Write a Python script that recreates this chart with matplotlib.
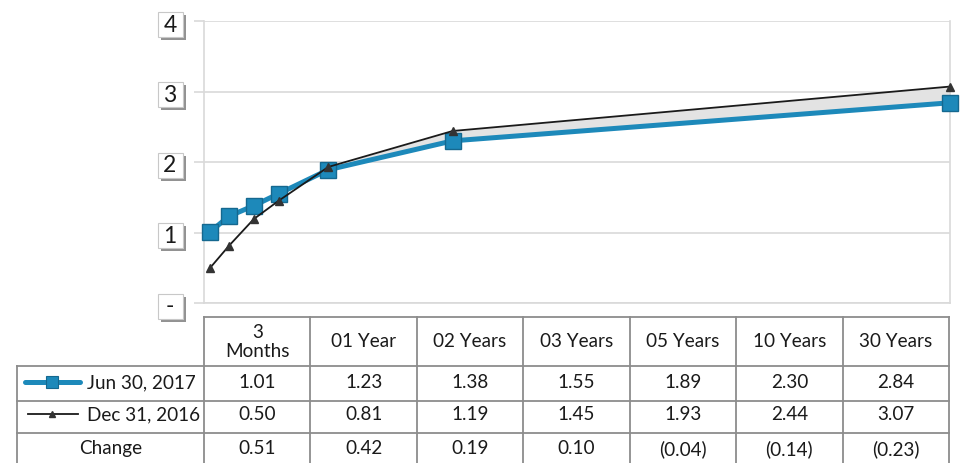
import matplotlib
matplotlib.use("Agg")
import matplotlib.pyplot as plt
import matplotlib.patheffects as pe
from matplotlib import transforms
from matplotlib.lines import Line2D
from matplotlib.patches import Rectangle
import numpy as np

# Yield curve points, maturity in years
maturities = [0.25, 1, 2, 3, 5, 10, 30]
tenor_labels = ["3\nMonths", "01 Year", "02 Years", "03 Years", "05 Years", "10 Years", "30 Years"]
jun_2017 = [1.01, 1.23, 1.38, 1.55, 1.89, 2.30, 2.84]
dec_2016 = [0.50, 0.81, 1.19, 1.45, 1.93, 2.44, 3.07]
series_names = ["Jun 30, 2017", "Dec 31, 2016"]
change_label = "Change"
y_ticks = [0, 1, 2, 3, 4]
y_tick_labels = ["-", "1", "2", "3", "4"]

BLUE = "#1d89ba"
BLUE_EDGE = "#15688f"
GRID = "#d9d9d9"
RULE = "#8c8c8c"
TEXT = "#1a1a1a"

W, H = 966, 464
plt.rcParams["font.family"] = ["Lato", "DejaVu Sans"]

fig = plt.figure(figsize=(W / 100, H / 100), dpi=100)


def fx(px):
    return px / W


def fy(py):
    return 1 - py / H


# --- chart area ---
ax_left, ax_right, ax_top, ax_bottom = 204, 950, 22, 304
ax = fig.add_axes([fx(ax_left), fy(ax_bottom), (ax_right - ax_left) / W, (ax_bottom - ax_top) / H])
ax.set_xlim(0, 30)
ax.set_ylim(0, 4)
ax.set_xticks([])
ax.set_yticks(y_ticks)
ax.set_yticklabels([])
ax.yaxis.grid(True, color=GRID, lw=1.2)
ax.set_axisbelow(True)
ax.tick_params(axis="y", length=7, width=1.2, color=GRID)
ax.spines["top"].set_visible(False)
for side in ("left", "right", "bottom"):
    ax.spines[side].set_color(GRID)
    ax.spines[side].set_linewidth(1.2)

x = np.array(maturities)
jun = np.array(jun_2017)
dec = np.array(dec_2016)
ax.fill_between(x, jun, dec, where=dec >= jun, interpolate=True,
                color="#e3e3e3", lw=0, zorder=1)
ax.plot(x, jun, color=BLUE, lw=3.6, marker="s", ms=11.5, mfc=BLUE,
        mec=BLUE_EDGE, mew=1, zorder=3, clip_on=False)
ax.plot(x, dec, color=TEXT, lw=1.3, marker="^", ms=6, mfc="#333333",
        mec="#333333", zorder=4, clip_on=False)

# boxed y labels with drop shadow
trans = transforms.blended_transform_factory(ax.transAxes, ax.transData)
px_x = 1 / (ax_right - ax_left)
px_y = 4 / (ax_bottom - ax_top)
box_cx, box_w, box_h = (170 - ax_left) * px_x, 25 * px_x, 25 * px_y
for v, lab in zip(y_ticks, y_tick_labels):
    cy = v - 3 * px_y
    box = Rectangle((box_cx - box_w / 2, cy - box_h / 2), box_w, box_h,
                    transform=trans, fc="white", ec="#c8c8c8", lw=0.8,
                    clip_on=False, zorder=5)
    box.set_path_effects([pe.SimplePatchShadow(offset=(2.4, -2.4), shadow_rgbFace="#4a4a4a", alpha=0.6),
                          pe.Normal()])
    ax.add_patch(box)
    ax.text(box_cx, cy, lab, transform=trans, ha="center", va="center",
            fontsize=16.5, color=TEXT, zorder=6, clip_on=False)

# --- data table ---
col_x = [ax_left + (949 - ax_left) / 7 * i for i in range(8)]
tbl_left = 17
head_top, row_lines, tbl_bottom = 318, [367, 402, 434], 470


def hline(y, x0, x1):
    fig.add_artist(Line2D([fx(x0), fx(x1)], [fy(y), fy(y)], transform=fig.transFigure,
                          color=RULE, lw=1.3))


def vline(x0, y0, y1):
    fig.add_artist(Line2D([fx(x0), fx(x0)], [fy(y0), fy(y1)], transform=fig.transFigure,
                          color=RULE, lw=1.3))


hline(head_top, col_x[0], col_x[-1])
for y in row_lines:
    hline(y, tbl_left, col_x[-1])
vline(tbl_left, row_lines[0], tbl_bottom)
for cx in col_x:
    vline(cx, head_top, tbl_bottom)

fs = 13.6
row_y = [383, 415, 449]
for i, lab in enumerate(tenor_labels):
    cx = (col_x[i] + col_x[i + 1]) / 2
    fig.text(fx(cx), fy(342), lab, ha="center", va="center", fontsize=fs,
             color=TEXT, linespacing=1.1)


def fmt(v):
    v = round(v, 2)
    return f"({abs(v):.2f})" if v < 0 else f"{v:.2f}"


changes = [j - d for j, d in zip(jun_2017, dec_2016)]
for r, vals in enumerate([jun_2017, dec_2016, changes]):
    for i, v in enumerate(vals):
        cx = (col_x[i] + col_x[i + 1]) / 2
        fig.text(fx(cx), fy(row_y[r]), fmt(v), ha="center", va="center",
                 fontsize=fs, color=TEXT)

# legend keys inside the row label cells
fig.add_artist(Line2D([fx(25), fx(80)], [fy(row_y[0])] * 2, transform=fig.transFigure,
                      color=BLUE, lw=3.6, solid_capstyle="round"))
fig.add_artist(Line2D([fx(52)], [fy(row_y[0])], transform=fig.transFigure, marker="s",
                      ms=8, mfc=BLUE, mec=BLUE_EDGE, mew=0.8))
fig.add_artist(Line2D([fx(28), fx(78)], [fy(row_y[1])] * 2, transform=fig.transFigure,
                      color=TEXT, lw=1.3))
fig.add_artist(Line2D([fx(52)], [fy(row_y[1])], transform=fig.transFigure, marker="^",
                      ms=4.5, mfc="#333333", mec="#333333"))
for r, name in enumerate(series_names):
    fig.text(fx(87), fy(row_y[r]), name, ha="left", va="center", fontsize=fs, color=TEXT)
fig.text(fx((tbl_left + col_x[0]) / 2), fy(row_y[2]), change_label, ha="center",
         va="center", fontsize=fs, color=TEXT)

fig.savefig("out.png", dpi=100, facecolor="white")
